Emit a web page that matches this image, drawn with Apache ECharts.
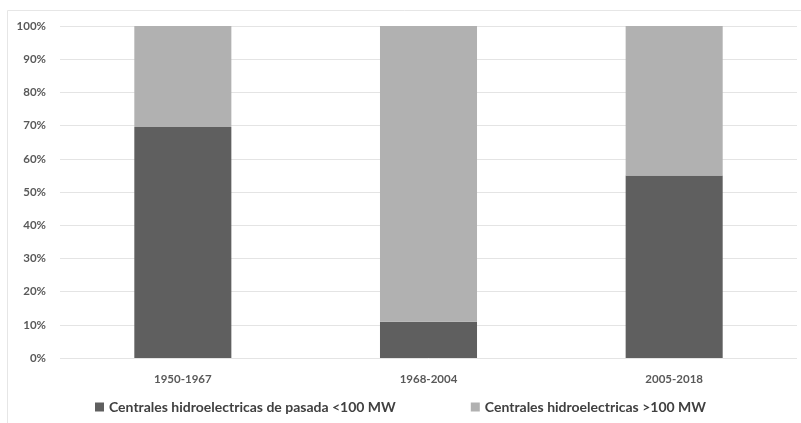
<!DOCTYPE html>
<html><head><meta charset="utf-8">
<script src="https://cdn.jsdelivr.net/npm/echarts@6/dist/echarts.min.js"></script>
<style>html,body{margin:0;padding:0;background:#fff}#c{width:801px;height:423px}</style>
</head><body><div id="c"></div>
<script>
const categories = ['1950-1967', '1968-2004', '2005-2018'];
const seriesNames = ['Centrales hidroelectricas de pasada <100 MW', 'Centrales hidroelectricas >100 MW'];
const smallShare = [69.6, 10.9, 55];
const largeShare = [30.4, 89.1, 45];
const yTicks = [0, 10, 20, 30, 40, 50, 60, 70, 80, 90, 100];

const chart = echarts.init(document.getElementById('c'));
const font = 'Lato, "Open Sans", sans-serif';
chart.setOption({
  animation: false,
  graphic: [{type: 'rect', shape: {x: 7.5, y: 10.5, width: 800, height: 420}, style: {fill: 'none', stroke: '#e6e6e6', lineWidth: 1}, silent: true}],
  grid: {left: 60, right: 4, top: 26, bottom: 65, containLabel: false},
  legend: {
    bottom: 4, left: 'center', itemWidth: 9, itemHeight: 9, itemGap: 75,
    icon: 'rect',
    textStyle: {fontFamily: font, fontSize: 14, fontWeight: 'bold', color: '#404040'},
    data: seriesNames
  },
  xAxis: {
    type: 'category', data: categories,
    axisLine: {show: false}, axisTick: {show: false},
    axisLabel: {fontFamily: font, fontSize: 11.5, fontWeight: 'bold', color: '#595959', margin: 15}
  },
  yAxis: {
    type: 'value', min: 0, max: 100, interval: 10,
    axisLine: {show: false}, axisTick: {show: false},
    axisLabel: {fontFamily: font, fontSize: 11.5, fontWeight: 'bold', color: '#595959', margin: 14,
      formatter: v => yTicks.includes(v) ? v + '%' : ''},
    splitLine: {lineStyle: {color: '#e4e4e4', width: 1}}
  },
  series: [
    {name: seriesNames[0], type: 'bar', stack: 's', data: smallShare, barWidth: '39.5%', itemStyle: {color: '#5f5f5f'}},
    {name: seriesNames[1], type: 'bar', stack: 's', data: largeShare, barWidth: '39.5%', itemStyle: {color: '#b1b1b1'}}
  ]
});
</script></body></html>
